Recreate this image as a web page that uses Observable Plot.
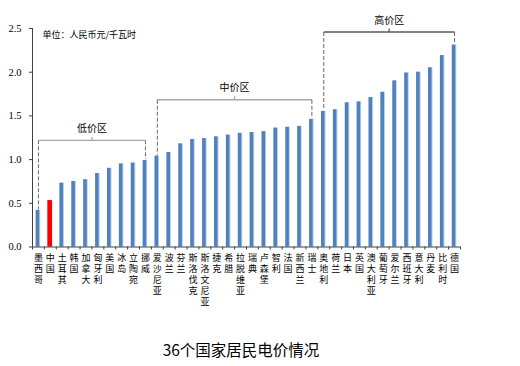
<!DOCTYPE html>
<html>
<head>
<meta charset="utf-8">
<script src="https://cdn.jsdelivr.net/npm/d3@7"></script>
<script src="https://cdn.jsdelivr.net/npm/@observablehq/plot@0.6"></script>
<style>
  body { margin: 0; background: #fff; }
  #wrap { position: relative; width: 520px; height: 366px; }
  #cap { position: absolute; left: 0; top: 338px; width: 482px; text-align: center;
         font-family: 'Noto Sans CJK SC', sans-serif; font-size: 15.5px; color: #000; }
</style>
</head>
<body>
<div id="wrap"><div id="chart"></div><div id="cap">36个国家居民电价情况</div></div>
<script>
const countries = ["墨西哥","中国","土耳其","韩国","加拿大","匈牙利","美国","冰岛","立陶宛","挪威",
  "爱沙尼亚","波兰","芬兰","斯洛伐克","斯洛文尼亚","捷克","希腊","拉脱维亚","瑞典","卢森堡",
  "智利","法国","新西兰","瑞士","奥地利","荷兰","日本","英国","澳大利亚","葡萄牙",
  "爱尔兰","西班牙","意大利","丹麦","比利时","德国"];
const values = [0.42,0.53,0.73,0.75,0.77,0.84,0.90,0.95,0.96,0.99,
  1.04,1.08,1.18,1.23,1.24,1.26,1.28,1.30,1.31,1.32,
  1.36,1.37,1.38,1.46,1.55,1.57,1.65,1.66,1.71,1.77,
  1.90,1.99,2.00,2.05,2.19,2.31];
const highlight = "中国";
const yTicks = [0, 0.5, 1.0, 1.5, 2.0, 2.5];
const unitLabel = "单位：人民币元/千瓦时";
const bracketNames = ["低价区","中价区","高价区"];
const bracketStart = ["墨西哥","爱沙尼亚","奥地利"];
const bracketEnd = ["挪威","瑞士","德国"];
const bracketLevel = [1.22, 1.685, 2.46];

const rows = countries.map((c, i) => ({i, c, v: values[i]}));
const xDomain = [-0.5, countries.length - 0.5];
const half = 0.19;
const bk = bracketNames.map((name, k) => {
  const a = countries.indexOf(bracketStart[k]), b = countries.indexOf(bracketEnd[k]);
  return {name, a, b, m: (a + b) / 2, level: bracketLevel[k],
    fa: values[a] + 0.015, fb: values[b] + 0.015,
    color: k === 2 ? "#595959" : "#a6a6a6"};
});
const cjk = "'Noto Sans CJK SC', sans-serif";

const chart = Plot.plot({
  width: 520, height: 330,
  marginLeft: 32, marginRight: 60, marginTop: 28, marginBottom: 83.5,
  style: {fontFamily: cjk, color: "#000", background: "#fff"},
  x: {type: "linear", domain: xDomain, axis: null},
  y: {domain: [0, 2.5], axis: null},
  color: {type: "identity"},
  marks: [
    Plot.rectY(rows, {x1: d => d.i - half, x2: d => d.i + half, y: "v",
      fill: d => d.c === highlight ? "#ff0000" : "#bcd0ea"}),
    Plot.rectY(rows, {x1: d => d.i - half, x2: d => d.i + half, y: "v", insetRight: 1,
      fill: d => d.c === highlight ? "#ff0000" : "#4f81bd"}),
    Plot.ruleY([0], {stroke: "#404040"}),
    Plot.ruleX([xDomain[0]], {y1: 0, y2: 2.5, stroke: "#404040"}),
    Plot.axisY(yTicks, {tickFormat: d3.format(".1f"), tickSize: 3, tickPadding: 8,
      fontFamily: "'Liberation Serif', serif", fontSize: 10.5, label: null, stroke: "#404040"}),
    Plot.axisX(d3.range(xDomain[0], xDomain[1] + 0.01, 1), {tickFormat: () => "", tickSize: 3,
      label: null, stroke: "#404040"}),
    Plot.axisX(rows.map(d => d.i), {tickFormat: i => [...countries[i]].join("\n"), tickSize: 0,
      tickPadding: 6, fontSize: 9, lineHeight: 1.22, label: null}),
    Plot.link(bk, {x1: "a", x2: "b", y1: "level", y2: "level", stroke: "color", strokeWidth: 1.3}),
    Plot.link(bk, {x1: "a", x2: "a", y1: "level", y2: "fa", stroke: "#666", strokeDasharray: "4,2"}),
    Plot.link(bk, {x1: "b", x2: "b", y1: "level", y2: "fb", stroke: "#666", strokeDasharray: "4,2"}),
    Plot.link(bk, {x1: "m", x2: "m", y1: "level", y2: d => d.level + 0.04, stroke: "color", strokeWidth: 1.3}),
    Plot.text(bk, {x: "m", y: d => d.level + 0.04, text: "name", dy: -5, lineAnchor: "bottom", fontSize: 10}),
    Plot.text([unitLabel], {frameAnchor: "top-left", dx: 10, dy: 3, lineAnchor: "top",
      textAnchor: "start", fontSize: 9})
  ]
});
document.getElementById("chart").appendChild(chart);
</script>
</body>
</html>
